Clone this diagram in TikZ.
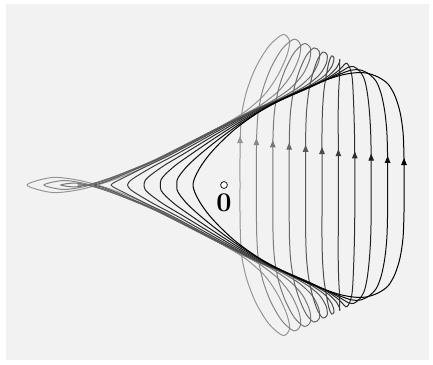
\documentclass[tikz,border=0pt]{standalone}
\usetikzlibrary{arrows.meta}
\definecolor{bg}{HTML}{F2F2F2}
\tikzset{
  curve/.style={line width=1pt},
  tiparrow/.style={line width=1pt, -{Triangle[length=7pt,width=5.5pt]}},
  originmark/.style={circle, draw=black, fill=white, inner sep=0pt, minimum size=6.8pt, line width=0.7pt},
  zerolabel/.style={inner sep=0pt, font=\fontsize{27}{27}\selectfont\bfseries}
}
% upper halves (pixel coordinates, y downwards), index 0 = right middle, 20 = left tip
\def\DX{{404,404,403,400,395,388,378,366,353,338,318,295,270,250,234,220,209,201,196,193.8,193}}
\def\DY{{185,158,132,112,96,84,77,73,73,76,83,93,105,118,130,143,155,166,175,180.5,185}}
\def\MX{{322,322,322,322.5,324,326.5,329,331.5,334,332,324,309,288,262,232,200,170,145,127,116,111}}
\def\MY{{185,158,132,110,90,74,62,56,58,66,76,86,96,107,122,139,155,167,176,181.5,185}}
\def\LX{{240,240,240.5,242,247,256,269,283,289.5,287,278,265,246,225,198,168,138,110,80,52,27}}
\def\LY{{185,158,132,112,90,67,46,34.5,41,55,75,94,111,124,139,155,170,181,189.5,192.5,185}}
\begin{document}
\begin{tikzpicture}[x=1pt,y=-1pt]
\useasboundingbox (0,0) rectangle (433,364);
\fill[bg] (6,4) rectangle (429,360);
\foreach \k in {10,9,...,0}{
  \pgfmathsetmacro\tt{\k/10}
  \pgfmathsetmacro\wa{(1-\tt)*(1-2*\tt)}
  \pgfmathsetmacro\wb{4*\tt*(1-\tt)}
  \pgfmathsetmacro\wc{\tt*(2*\tt-1)}
  \pgfmathtruncatemacro\shade{100-5.8*\k}
  \gdef\pts{}
  \foreach \i in {0,...,20}{
    \pgfmathsetmacro\xx{\wa*\DX[\i]+\wb*\MX[\i]+\wc*\LX[\i]}
    \pgfmathsetmacro\yy{\wa*\DY[\i]+\wb*\MY[\i]+\wc*\LY[\i]}
    \xdef\pts{\pts(\xx,\yy)}
  }
  \foreach \i in {19,...,1}{
    \pgfmathsetmacro\xx{\wa*\DX[\i]+\wb*\MX[\i]+\wc*\LX[\i]}
    \pgfmathsetmacro\yy{370-(\wa*\DY[\i]+\wb*\MY[\i]+\wc*\LY[\i])}
    \xdef\pts{\pts(\xx,\yy)}
  }
  \edef\cmd{\noexpand\draw[curve, draw=black!\shade] plot[smooth cycle] coordinates {\pts};}
  \cmd
  % arrowhead on the right side, pointing up
  \pgfmathsetmacro\ax{\wa*\DX[1]+\wb*\MX[1]+\wc*\LX[1]}
  \pgfmathsetmacro\ay{158-2.2*\k}
  \coordinate (a\k) at (\ax,\ay+2);
  \coordinate (b\k) at (\ax,\ay);
  \draw[tiparrow, draw=black!\shade, fill=black!\shade] (a\k) -- (b\k);
}
\node[originmark] (origin) at (224,185) {};
\node[zerolabel] (zero) at (224,202.5) {0};
\end{tikzpicture}
\end{document}
